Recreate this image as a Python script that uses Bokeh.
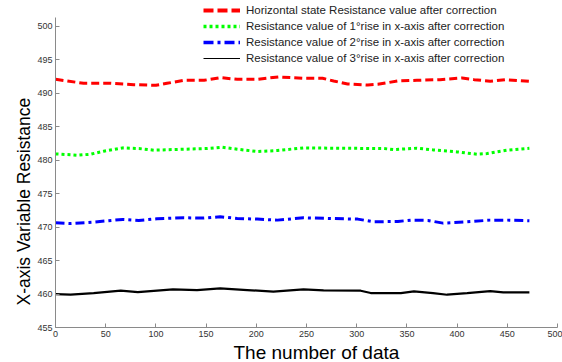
from bokeh.plotting import figure
from bokeh.models import Range1d, FixedTicker, Legend, LegendItem, Title
from bokeh.embed import file_html
from bokeh.resources import INLINE

# ---- data ----
red_x = [0, 28, 55, 78, 100, 111, 128, 148, 164, 181, 201, 222, 247, 266, 277, 291, 311, 321, 341, 360, 383, 405, 417, 433, 448, 472]
red_y = [492.1, 491.5, 491.5, 491.3, 491.2, 491.5, 491.95, 491.95, 492.35, 492.1, 492.1, 492.45, 492.25, 492.25, 491.85, 491.4, 491.25, 491.35, 491.85, 491.95, 492.05, 492.3, 492.05, 491.8, 492.05, 491.8]

green_x = [0, 22, 35, 48, 67, 83, 98, 128, 151, 166, 181, 201, 221, 247, 277, 327, 337, 360, 376, 400, 420, 430, 450, 472]
green_y = [480.95, 480.75, 480.9, 481.35, 481.85, 481.75, 481.5, 481.65, 481.75, 481.95, 481.65, 481.3, 481.45, 481.85, 481.8, 481.75, 481.6, 481.8, 481.55, 481.25, 480.9, 481.0, 481.5, 481.8]

blue_x = [0, 15, 38, 52, 67, 83, 101, 128, 148, 164, 181, 201, 221, 247, 301, 317, 341, 354, 371, 386, 410, 433, 450, 472]
blue_y = [470.65, 470.55, 470.75, 470.95, 471.15, 471.0, 471.25, 471.4, 471.35, 471.55, 471.3, 471.2, 471.05, 471.4, 471.2, 470.8, 470.85, 471.05, 471.0, 470.6, 470.8, 471.05, 471.05, 470.95]

black_x = [0, 15, 38, 65, 82, 117, 141, 164, 191, 217, 247, 267, 304, 314, 344, 357, 376, 390, 410, 433, 446, 472]
black_y = [460.0, 459.9, 460.15, 460.5, 460.3, 460.7, 460.6, 460.85, 460.6, 460.35, 460.7, 460.55, 460.5, 460.15, 460.15, 460.4, 460.15, 459.9, 460.15, 460.45, 460.25, 460.25]

legend_labels = [
    "Horizontal state Resistance value after correction",
    "Resistance value of 1°rise in x-axis after correction",
    "Resistance value of 2°rise in x-axis after correction",
    "Resistance value of 3°rise in x-axis after correction",
]
x_ticks = list(range(0, 501, 50))
y_ticks = list(range(455, 501, 5))
x_label = "The number of data"
y_label = "X-axis Variable Resistance"

FONT = "Liberation Sans"

p = figure(width=562, height=362, output_backend="svg", toolbar_location=None,
           x_range=Range1d(0, 500), y_range=Range1d(455, 455 + 327 / 6.69))
p.min_border_left = 55
p.min_border_right = 5
p.min_border_top = 0
p.min_border_bottom = 35
p.outline_line_color = None
p.background_fill_color = "white"
p.border_fill_color = "white"
p.xgrid.visible = False
p.ygrid.visible = False

for ax in (p.xaxis[0], p.yaxis[0]):
    ax.axis_line_color = "#8a8a8a"
    ax.major_tick_line_color = "#8a8a8a"
    ax.major_tick_in = 4
    ax.major_tick_out = 0
    ax.minor_tick_line_color = None
    ax.major_label_text_font = FONT
    ax.major_label_text_font_size = "9px"
    ax.major_label_text_color = "#333333"
    ax.major_label_standoff = 3

p.xaxis.ticker = FixedTicker(ticks=x_ticks)
p.yaxis.ticker = FixedTicker(ticks=y_ticks)
p.yaxis.bounds = (455, 501.3)
p.xaxis.bounds = (0, 500)

# axis titles as Title annotations (start-aligned with a pixel offset)
xt = Title(text=x_label, align="left", offset=178, text_font=FONT,
           text_font_size="19px", text_font_style="normal", text_color="black",
           standoff=0)
yt = Title(text=y_label, align="left", offset=22, text_font=FONT,
           text_font_size="17.5px", text_font_style="normal", text_color="black",
           standoff=2)
p.add_layout(xt, "below")
p.add_layout(yt, "left")

# data lines
p.line(red_x, red_y, line_color="#ff0000", line_width=3, line_dash="8 4")
p.line(green_x, green_y, line_color="#00ff00", line_width=3, line_dash="3 3")
p.line(blue_x, blue_y, line_color="#0000ff", line_width=3, line_dash="9 4 3 4")
p.line(black_x, black_y, line_color="black", line_width=2.2)

# legend-only renderers (kept outside the visible frame)
off_x = [-60, -50]
off_y = [470, 470]
l1 = p.line(off_x, off_y, line_color="#ff0000", line_width=4, line_dash="10 4")
l2 = p.line(off_x, off_y, line_color="#00ff00", line_width=3.5, line_dash="3 3")
l3 = p.line(off_x, off_y, line_color="#0000ff", line_width=3.5, line_dash="10 4 3 4")
l4 = p.line(off_x, off_y, line_color="black", line_width=1)

legend = Legend(items=[LegendItem(label=legend_labels[i], renderers=[r])
                       for i, r in enumerate([l1, l2, l3, l4])],
                location=(148, 261))
legend.border_line_color = None
legend.background_fill_alpha = 0
legend.padding = 0
legend.margin = 0
legend.spacing = 0
legend.glyph_width = 37
legend.glyph_height = 16
legend.label_height = 16
legend.label_standoff = 6
legend.label_text_font = FONT
legend.label_text_font_size = "11.5px"
legend.label_text_color = "#222222"
p.add_layout(legend, "center")

open("out.html", "w").write(file_html(p, INLINE))
